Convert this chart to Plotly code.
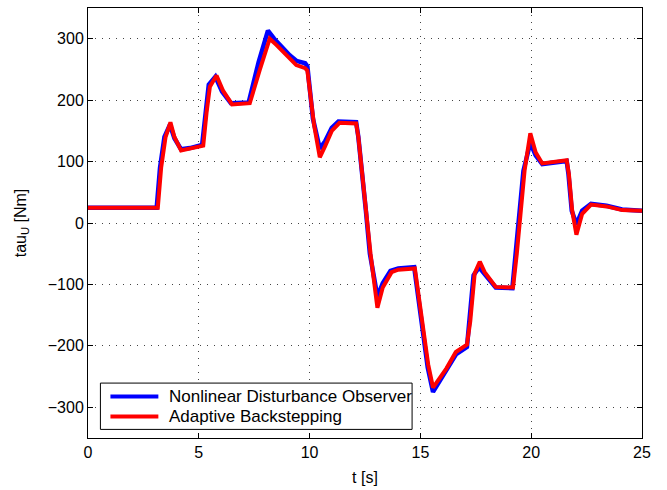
import plotly.graph_objects as go

# Adaptive Backstepping (red)
t_ab = [0, 3.15, 3.3, 3.5, 3.72, 3.9, 4.2, 4.6, 5.2, 5.35, 5.5, 5.8, 6.1, 6.5, 7.3, 7.75, 8.0, 8.2,
        8.5, 8.8, 9.1, 9.4, 9.8, 9.9, 10.2, 10.46, 10.7, 11.0, 11.35, 12.1, 12.2, 12.56, 12.75, 13.06,
        13.3, 13.7, 14.0, 14.75, 14.9, 15.12, 15.35, 15.57, 15.9, 16.17, 16.6, 17.1, 17.25, 17.45,
        17.68, 17.9, 18.4, 19.18, 19.35, 19.5, 19.7, 19.96, 20.2, 20.5, 21.0, 21.6, 21.7, 21.85,
        22.04, 22.3, 22.7, 23.4, 24.1, 25]
v_ab = [25, 25, 90, 140, 164, 140, 118, 121, 126, 180, 222, 240, 215, 193, 195, 249, 280, 300,
        290, 279, 267, 257, 252, 248, 160, 107, 125, 150, 163, 162, 140, 20, -50, -138,
        -105, -80, -76, -74, -115, -173, -230, -268, -250, -237, -210, -198, -160, -82,
        -63, -80, -104, -105, -50, 5, 85, 146, 115, 97, 99, 102, 80, 20,
        -19, 15, 30, 27, 21, 20]

# Nonlinear Disturbance Observer (blue)
t_ndo = [0, 3.1, 3.25, 3.45, 3.7, 3.9, 4.2, 4.6, 5.15, 5.3, 5.45, 5.75, 6.05, 6.45, 7.25, 7.7, 7.95,
         8.12, 8.4, 8.8, 9.1, 9.4, 9.8, 9.9, 10.15, 10.46, 10.7, 11.0, 11.3, 12.1, 12.2, 12.54, 12.72,
         13.06, 13.3, 13.65, 14.0, 14.72, 14.88, 15.1, 15.33, 15.57, 15.9, 16.17, 16.6, 17.1, 17.2,
         17.4, 17.65, 17.9, 18.4, 19.15, 19.3, 19.45, 19.65, 19.96, 20.2, 20.5, 21.0, 21.6, 21.68,
         21.83, 22.04, 22.3, 22.7, 23.4, 24.1, 25]
v_ndo = [25, 25, 90, 140, 160, 138, 120, 122, 127, 185, 225, 238, 214, 195, 196, 262, 296,
         313, 300, 284, 273, 264, 260, 255, 170, 121, 133, 155, 165, 164, 140, 20, -50,
         -120, -98, -78, -74, -72, -115, -175, -235, -275, -256, -241, -214, -202, -160,
         -85, -72, -84, -105, -106, -50, 5, 85, 131, 110, 96, 98, 101, 80,
         20, -2, 20, 31, 28, 22, 20]

series_names = ["Nonlinear Disturbance Observer", "Adaptive Backstepping"]
series_colors = ["#0000ff", "#ff0000"]
x_ticks = [0, 5, 10, 15, 20, 25]
y_ticks = [-300, -200, -100, 0, 100, 200, 300]

FONT = "Liberation Sans, Arial, Helvetica"

fig = go.Figure()
fig.add_trace(go.Scatter(x=t_ndo, y=v_ndo, mode="lines", name=series_names[0],
                         line=dict(color=series_colors[0], width=4.5)))
fig.add_trace(go.Scatter(x=t_ab, y=v_ab, mode="lines", name=series_names[1],
                         line=dict(color=series_colors[1], width=4)))

axis_common = dict(
    showline=True, linecolor="black", linewidth=1, mirror="ticks",
    ticks="inside", ticklen=5, tickcolor="black", tickwidth=1,
    showgrid=True, gridcolor="#444444", gridwidth=1, griddash="1px,6px",
    zeroline=False, tickfont=dict(family=FONT, size=16, color="black"),
)

fig.update_xaxes(range=[0, 25], tickvals=x_ticks,
                 title=dict(text="t [s]", font=dict(family=FONT, size=16, color="black"),
                            standoff=11),
                 **axis_common)
fig.update_yaxes(range=[-350, 350], tickvals=y_ticks,
                 title=dict(text="tau<sub>U</sub> [Nm]",
                            font=dict(family=FONT, size=16, color="black"),
                            standoff=17),
                 **axis_common)

# Legend box drawn in plot-area (paper) coordinates, MATLAB style
leg_x0, leg_x1, leg_y0, leg_y1 = 0.0224, 0.585, 0.020, 0.1277
line_x0, line_x1, text_x = 0.0405, 0.127, 0.1435
entry_y = [0.0963, 0.0498]
fig.add_shape(type="rect", xref="paper", yref="paper", x0=leg_x0, x1=leg_x1, y0=leg_y0, y1=leg_y1,
              line=dict(color="black", width=1), fillcolor="white", layer="above")
for name, color, yy in zip(series_names, series_colors, entry_y):
    fig.add_shape(type="line", xref="paper", yref="paper", x0=line_x0, x1=line_x1, y0=yy, y1=yy,
                  line=dict(color=color, width=4), layer="above")
    fig.add_annotation(xref="paper", yref="paper", x=text_x, y=yy, text=name, showarrow=False,
                       xanchor="left", yanchor="middle",
                       font=dict(family=FONT, size=17, color="black"))

fig.update_layout(
    width=667, height=490,
    margin=dict(l=88, r=25, t=7, b=47),
    paper_bgcolor="white", plot_bgcolor="white",
    showlegend=False,
)

fig.write_html("out.html")
